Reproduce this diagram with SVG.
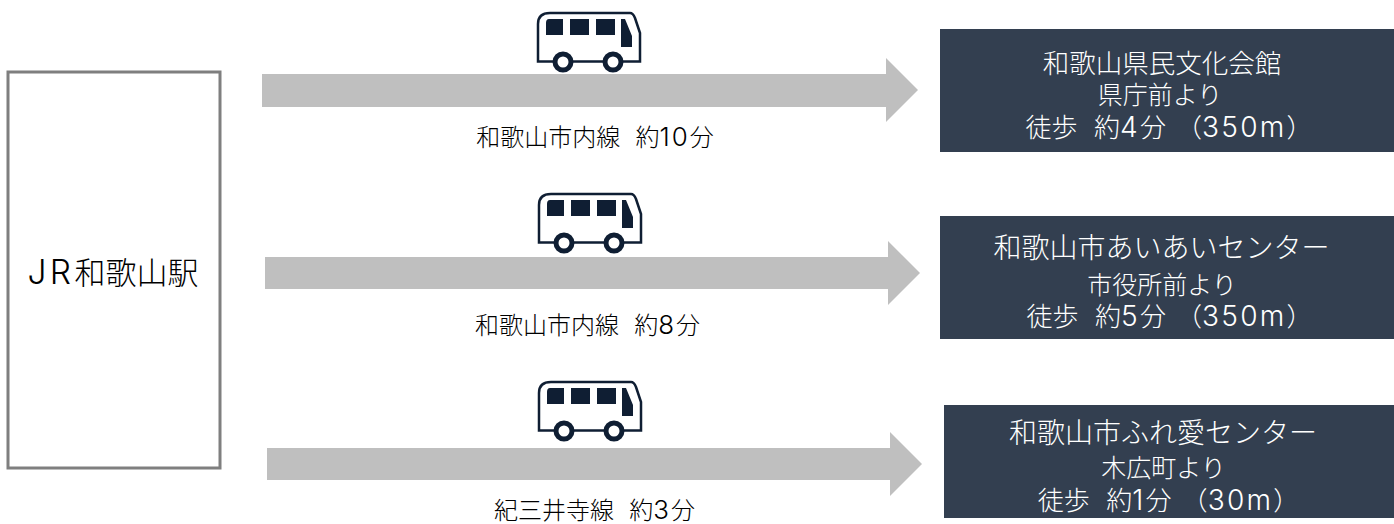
<svg xmlns="http://www.w3.org/2000/svg" width="1394" height="524" viewBox="0 0 1394 524">
<style>
text{font-family:"Noto Sans CJK JP",sans-serif;text-anchor:middle;white-space:pre;font-weight:300;text-spacing-trim:space-all;font-feature-settings:"palt" 0}
.n{font-family:"Inter",sans-serif;font-size:1.08em;letter-spacing:.08em;font-weight:300}
.g{font-family:"DejaVu Sans",sans-serif}
.b{fill:#333f50}
.w{fill:#fff;font-size:25px}
.t{font-size:28px}
.f{font-size:26px}
.l{fill:#000;font-size:24px}
.a{fill:#bfbfbf}
.s{fill:#fff;stroke:#0f1e33}
</style>
<defs>
<g id="bus">
<path class="s" d="M18 61.5V24Q18 13 30 13H110Q113 13 115 18L120 33V61.5Z" stroke-width="2.5"/>
<path d="M29 19H43V35H26V23Q26 19 29 19ZM50 19H69V35H50ZM76 19H95V35H76ZM101 19H105L112 36V47H101Z" fill="#0f1e33"/>
<circle class="s" cx="43" cy="62" r="8" stroke-width="5"/>
<circle class="s" cx="93" cy="62" r="8" stroke-width="5"/>
</g>
</defs>
<rect width="1394" height="524" fill="#fff"/>
<g id="connectors">
<path class="a" d="M262 74H886V58L918 90L886 122V107H262Z"/>
<path class="a" d="M265 257H888V241L920 273L888 305V289H265Z"/>
<path class="a" d="M267 448H890V432L922 464L890 496V480H267Z"/>
</g>
<g id="station"><rect x="8" y="72" width="212" height="396" fill="#fff" stroke="#7f7f7f" stroke-width="3"/>
<text x="113" y="284" style="font-size:31px" fill="#000"><tspan class="n" style="letter-spacing:.1em">JR</tspan>和歌山駅</text></g>
<g id="bus1"><use href="#bus" x="520" y="0"/></g>
<g id="bus2"><use href="#bus" x="521" y="181"/></g>
<g id="bus3"><use href="#bus" x="521" y="369"/></g>
<g id="label1"><text class="l" x="595" y="146">和歌山市内線<tspan class="g">  </tspan>約<tspan class="n">10</tspan>分</text></g>
<g id="label2"><text class="l" x="587.5" y="334">和歌山市内線<tspan class="g">  </tspan>約<tspan class="n">8</tspan>分</text></g>
<g id="label3"><text class="l" x="594.5" y="519">紀三井寺線<tspan class="g">  </tspan>約<tspan class="n">3</tspan>分</text></g>
<g id="dest1"><rect class="b" x="940" y="29" width="454" height="123"/>
<text class="w" x="1162" y="73" style="font-size:26.5px">和歌山県民文化会館</text><text class="w" x="1160" y="104">県庁前より</text><text class="w f" x="1169" y="137">徒歩<tspan class="g">  </tspan>約<tspan class="n">4</tspan>分<tspan dx="10">（</tspan><tspan class="n">350m</tspan>）</text></g>
<g id="dest2"><rect class="b" x="940" y="216" width="454" height="123"/>
<text class="w t" x="1161.5" y="258">和歌山市あいあいセンター</text><text class="w" x="1162" y="294">市役所前より</text><text class="w f" x="1169.5" y="326">徒歩<tspan class="g">  </tspan>約<tspan class="n">5</tspan>分<tspan dx="10">（</tspan><tspan class="n">350m</tspan>）</text></g>
<g id="dest3"><rect class="b" x="944" y="405" width="450" height="113"/>
<text class="w t" x="1163" y="443">和歌山市ふれ愛センター</text><text class="w" x="1163.5" y="477">木広町より</text><text class="w f" x="1168.5" y="510">徒歩<tspan class="g">  </tspan>約<tspan class="n">1</tspan>分<tspan dx="10">（</tspan><tspan class="n">30m</tspan>）</text></g>
</svg>
